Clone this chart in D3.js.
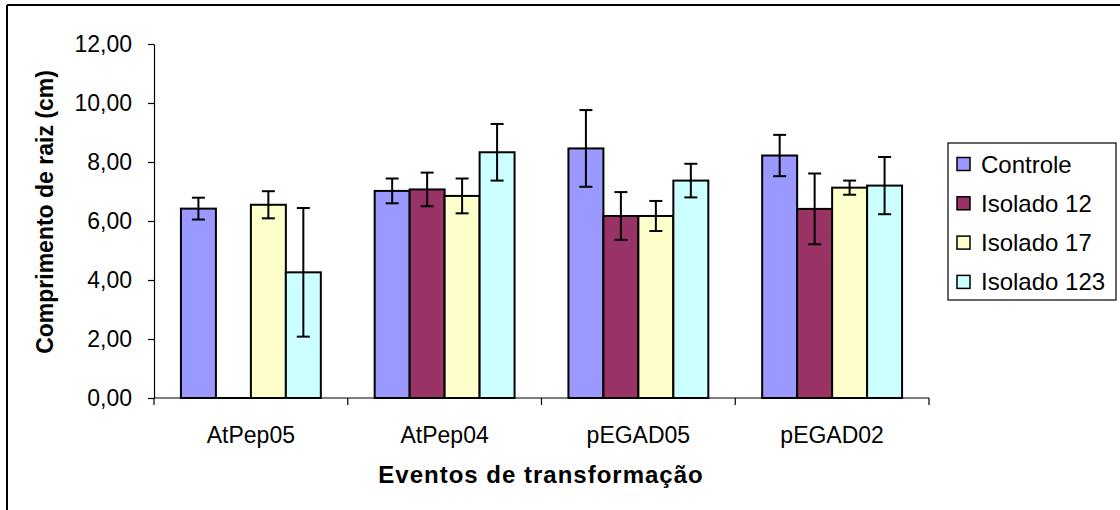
<meta charset="utf-8">
<style>
body { margin: 0; background: #fff; }
svg { font-family: "Liberation Sans", Arial, sans-serif; }
.axis path, .axis line { stroke: #000; stroke-width: 1.2px; }
.axis text { font-size: 23px; fill: #000; }
.xlbl { font-size: 24px; fill: #000; }
.bar { stroke: #000; stroke-width: 2px; }
.err { stroke: #000; stroke-width: 2px; }
.title { font-weight: bold; fill: #000; }
.legtext { font-size: 24px; fill: #000; }
</style>
<body>
<script src="https://d3js.org/d3.v7.min.js"></script>
<script>
// data
var categories = ["AtPep05", "AtPep04", "pEGAD05", "pEGAD02"];
var seriesNames = ["Controle", "Isolado 12", "Isolado 17", "Isolado 123"];
var controle    = [6.42, 7.02, 8.46, 8.22];
var isolado12   = [0.00, 7.07, 6.17, 6.41];
var isolado17   = [6.55, 6.85, 6.17, 7.13];
var isolado123  = [4.26, 8.33, 7.37, 7.20];
var controleErr   = [0.37, 0.42, 1.30, 0.70];
var isolado12Err  = [0.00, 0.57, 0.81, 1.20];
var isolado17Err  = [0.46, 0.59, 0.51, 0.24];
var isolado123Err = [2.18, 0.96, 0.57, 0.97];
var yTicks = [0, 2, 4, 6, 8, 10, 12];

var colors = ["#9999FF", "#993366", "#FFFFCC", "#CCFFFF"];
var values = [controle, isolado12, isolado17, isolado123];
var errors = [controleErr, isolado12Err, isolado17Err, isolado123Err];

var W = 1120, H = 510;
var plotLeft = 154, plotRight = 929, plotTop = 44, plotBottom = 398;

var svg = d3.select("body").append("svg")
    .attr("width", W)
    .attr("height", H);

// outer frame (only top and left edges show)
svg.append("line").attr("x1", 7).attr("x2", W).attr("y1", 5).attr("y2", 5)
    .attr("stroke", "#000").attr("stroke-width", 2);
svg.append("line").attr("x1", 7).attr("x2", 7).attr("y1", 5).attr("y2", H)
    .attr("stroke", "#000").attr("stroke-width", 2);

var x0 = d3.scaleBand().domain(categories).range([plotLeft, plotRight]).padding(0);
var x1 = d3.scaleBand().domain(seriesNames).range([0, x0.bandwidth()])
    .paddingInner(0).paddingOuter(0.77);
var y = d3.scaleLinear().domain([0, 12]).range([plotBottom, plotTop]);

var fmt = function(d) { return d3.format(".2f")(d).replace(".", ","); };

// y axis
svg.append("g")
    .attr("class", "axis")
    .attr("transform", "translate(" + plotLeft + ",0)")
    .call(d3.axisLeft(y).tickValues(yTicks).tickFormat(fmt).tickSize(6).tickSizeOuter(0).tickPadding(16));

// x axis: ticks at category boundaries
var xAxis = svg.append("g")
    .attr("class", "axis")
    .attr("transform", "translate(0," + plotBottom + ")");
xAxis.append("line").attr("x1", plotLeft).attr("x2", plotRight).attr("y1", 0).attr("y2", 0);
xAxis.selectAll(".tk")
    .data(categories.concat([null]))
    .enter().append("line")
    .attr("x1", function(c, i) { return plotLeft + i * x0.step(); })
    .attr("x2", function(c, i) { return plotLeft + i * x0.step(); })
    .attr("y1", 0).attr("y2", 7);
xAxis.selectAll(".xlbl")
    .data(categories)
    .enter().append("text")
    .attr("class", "xlbl")
    .attr("x", function(c) { return x0(c) + x0.bandwidth() / 2; })
    .attr("y", 45)
    .attr("text-anchor", "middle")
    .text(function(c) { return c; });

// bars
seriesNames.forEach(function(s, i) {
  var g = svg.append("g");
  g.selectAll("rect")
      .data(categories)
      .enter().append("rect")
      .attr("class", "bar")
      .attr("x", function(c) { return x0(c) + x1(s); })
      .attr("width", x1.bandwidth())
      .attr("y", function(c, j) { return y(values[i][j]); })
      // tiny height so a zero bar still shows its outline
      .attr("height", function(c, j) { return Math.max(y(0) - y(values[i][j]), 0.01); })
      .attr("fill", colors[i]);

  // error bars
  var cap = 6.5;
  categories.forEach(function(c, j) {
    if (errors[i][j] <= 0) return;
    var cx = x0(c) + x1(s) + x1.bandwidth() / 2;
    var hi = y(values[i][j] + errors[i][j]), lo = y(values[i][j] - errors[i][j]);
    g.append("line").attr("class", "err").attr("x1", cx).attr("x2", cx).attr("y1", hi).attr("y2", lo);
    g.append("line").attr("class", "err").attr("x1", cx - cap).attr("x2", cx + cap).attr("y1", hi).attr("y2", hi);
    g.append("line").attr("class", "err").attr("x1", cx - cap).attr("x2", cx + cap).attr("y1", lo).attr("y2", lo);
  });
});

// axis titles
svg.append("text")
    .attr("class", "title")
    .attr("transform", "translate(53,212) rotate(-90)")
    .attr("text-anchor", "middle")
    .style("font-size", "23px")
    .text("Comprimento de raiz (cm)");
svg.append("text")
    .attr("class", "title")
    .attr("x", 541)
    .attr("y", 483)
    .attr("text-anchor", "middle")
    .style("font-size", "24px")
    .style("letter-spacing", "1px")
    .text("Eventos de transformação");

// legend
var leg = svg.append("g").attr("transform", "translate(948,143)");
leg.append("rect").attr("width", 168).attr("height", 157)
    .attr("fill", "#fff").attr("stroke", "#000").attr("stroke-width", 1.2);
seriesNames.forEach(function(s, i) {
  var yy = 21 + i * 39.3;
  leg.append("rect").attr("x", 9).attr("y", yy - 6.5).attr("width", 13).attr("height", 13)
      .attr("fill", colors[i]).attr("stroke", "#000").attr("stroke-width", 1.5);
  leg.append("text").attr("class", "legtext").attr("x", 33).attr("y", yy + 8.5).text(s);
});
</script>
</body>
